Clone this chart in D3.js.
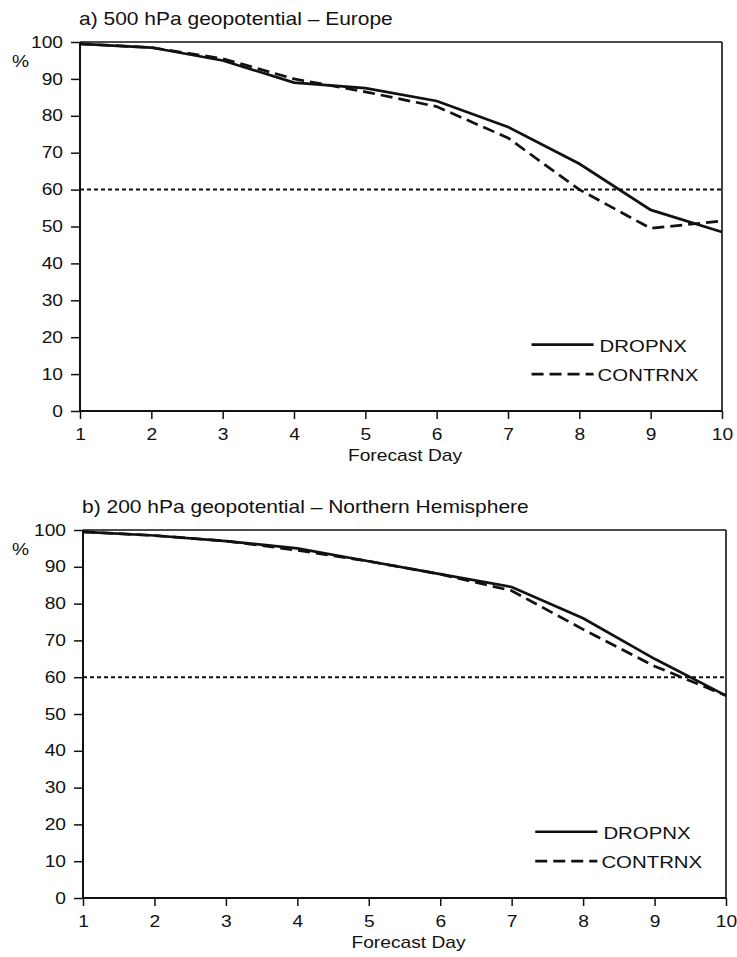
<!DOCTYPE html>
<html>
<head>
<meta charset="utf-8">
<script src="https://cdn.jsdelivr.net/npm/d3@7"></script>
<style>
  html, body { margin: 0; padding: 0; background: #fff; }
  svg text { font-family: "Liberation Sans", Arial, Helvetica, sans-serif; fill: #111; }
</style>
</head>
<body>
<svg id="chart" width="737" height="957"></svg>
<script>
const days = [1, 2, 3, 4, 5, 6, 7, 8, 9, 10];
const yTicks = [0, 10, 20, 30, 40, 50, 60, 70, 80, 90, 100];
const seriesNames = ["DROPNX", "CONTRNX"];
const threshold = 60;

const titleA = "a) 500 hPa geopotential \u2013 Europe";
const dropA = [99.5, 98.5, 95, 89, 87.5, 84, 77, 67, 54.5, 48.5];
const contA = [99.5, 98.5, 95.5, 90, 86.5, 82.5, 74, 60, 49.5, 51.5];

const titleB = "b) 200 hPa geopotential \u2013 Northern Hemisphere";
const dropB = [99.5, 98.5, 97, 95, 91.5, 88, 84.5, 76, 65, 55];
const contB = [99.5, 98.5, 97, 94.5, 91.5, 88, 83.5, 73, 63, 55];

const SX = 1.2; // horizontal stretch of the scanned lettering
const svg = d3.select("#chart");

function stretch(sel) {
  sel.each(function () {
    const t = d3.select(this);
    const x = +t.attr("x") || 0;
    t.attr("x", x / SX).attr("transform", `scale(${SX},1)`);
  });
  return sel;
}

function panel(opts) {
  const { title, drop, cont, x0, x1, yTop, yBot } = opts;
  const g = svg.append("g");
  const x = d3.scaleLinear().domain([1, 10]).range([x0, x1]);
  const y = d3.scaleLinear().domain([0, 100]).range([yBot, yTop]);

  // title
  stretch(g.append("text").attr("x", x0 - 1).attr("y", yTop - 17)
    .attr("font-size", 17.5).text(title));

  // box: top and right borders
  g.append("line").attr("x1", x0).attr("x2", x1).attr("y1", y(100)).attr("y2", y(100))
    .attr("stroke", "#111").attr("stroke-width", 1.6);
  g.append("line").attr("x1", x1).attr("x2", x1).attr("y1", y(100)).attr("y2", y(0))
    .attr("stroke", "#111").attr("stroke-width", 1.6);

  // y axis
  const yAxis = d3.axisLeft(y).tickValues(yTicks).tickSize(9).tickPadding(8);
  const ya = g.append("g").attr("transform", `translate(${x0},0)`).call(yAxis);
  ya.select(".domain").attr("stroke", "#111").attr("stroke-width", 2).attr("d", `M-0,${y(100)}V${y(0)}`);
  ya.selectAll(".tick line").attr("stroke", "#111").attr("stroke-width", 1.5);
  stretch(ya.selectAll(".tick text").attr("font-size", 16).attr("fill", "#111")
    .attr("font-family", "Liberation Sans, Arial, sans-serif"));

  // x axis
  const xAxis = d3.axisBottom(x).tickValues(days).tickFormat(d3.format("d")).tickSize(8).tickPadding(10);
  const xa = g.append("g").attr("transform", `translate(0,${yBot})`).call(xAxis);
  xa.select(".domain").attr("stroke", "#111").attr("stroke-width", 2.2).attr("d", `M${x0},0H${x1}`);
  xa.selectAll(".tick line").attr("stroke", "#111").attr("stroke-width", 1.5);
  stretch(xa.selectAll(".tick text").attr("font-size", 16).attr("fill", "#111")
    .attr("font-family", "Liberation Sans, Arial, sans-serif"));

  // axis labels
  stretch(g.append("text").attr("x", 12).attr("y", y(100) + 25).attr("font-size", 16).text("%"));
  stretch(g.append("text").attr("x", (x0 + x1) / 2 + 4).attr("y", yBot + 50)
    .attr("text-anchor", "middle").attr("font-size", 16).text("Forecast Day"));

  // threshold dotted line
  g.append("line").attr("x1", x0).attr("x2", x1).attr("y1", y(threshold)).attr("y2", y(threshold))
    .attr("stroke", "#111").attr("stroke-width", 2).attr("stroke-dasharray", "4,3");

  const line = d3.line().x((d, i) => x(days[i])).y(d => y(d));

  g.append("path").datum(cont).attr("d", line).attr("fill", "none")
    .attr("stroke", "#111").attr("stroke-width", 2.7).attr("stroke-dasharray", "12,6");
  g.append("path").datum(drop).attr("d", line).attr("fill", "none")
    .attr("stroke", "#111").attr("stroke-width", 2.7);

  // legend
  const lx0 = x(7.33), lx1 = x(8.2);
  const ly1 = y(18), ly2 = y(10);
  g.append("line").attr("x1", lx0).attr("x2", lx1).attr("y1", ly1).attr("y2", ly1)
    .attr("stroke", "#111").attr("stroke-width", 2.7);
  g.append("line").attr("x1", lx0).attr("x2", lx1).attr("y1", ly2).attr("y2", ly2)
    .attr("stroke", "#111").attr("stroke-width", 2.7).attr("stroke-dasharray", "12,6");
  stretch(g.append("text").attr("x", lx1 + 6).attr("y", ly1 + 7).attr("font-size", 17).text(seriesNames[0]));
  stretch(g.append("text").attr("x", lx1 + 4).attr("y", ly2 + 7).attr("font-size", 17).text(seriesNames[1]));
}

panel({ title: titleA, drop: dropA, cont: contA, x0: 80, x1: 722, yTop: 42, yBot: 411 });
panel({ title: titleB, drop: dropB, cont: contB, x0: 83, x1: 726, yTop: 530, yBot: 898 });
</script>
</body>
</html>
